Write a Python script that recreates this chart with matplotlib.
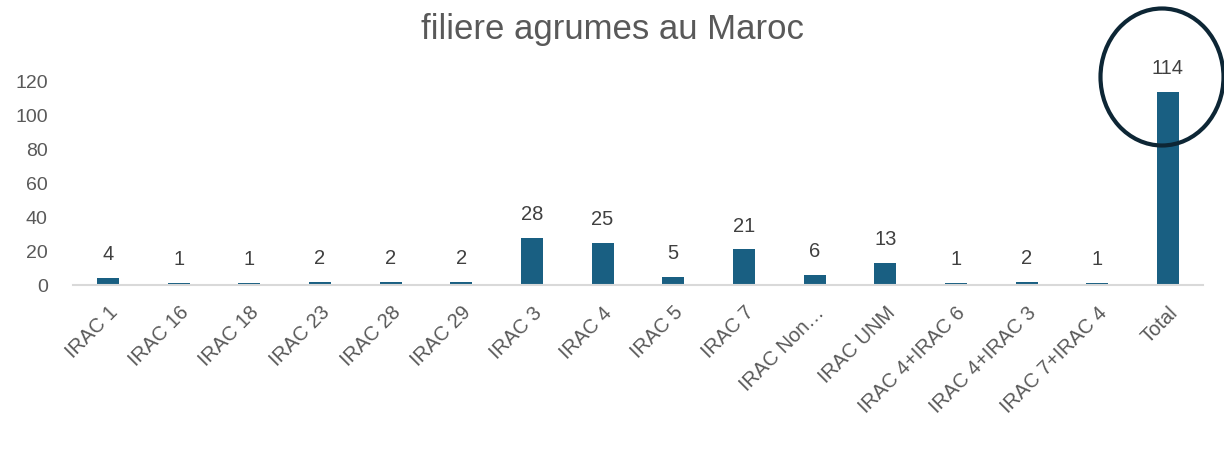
from matplotlib import pyplot as plt
from matplotlib.patches import Ellipse

categories = ['IRAC 1', 'IRAC 16', 'IRAC 18', 'IRAC 23', 'IRAC 28', 'IRAC 29',
	'IRAC 3', 'IRAC 4', 'IRAC 5', 'IRAC 7', 'IRAC Non…', 'IRAC UNM',
	'IRAC 4+IRAC 6', 'IRAC 4+IRAC 3', 'IRAC 7+IRAC 4', 'Total']
counts = [4, 1, 1, 2, 2, 2, 28, 25, 5, 21, 6, 13, 1, 2, 1, 114]
y_ticks = [0, 20, 40, 60, 80, 100, 120]

bar_color = '#195f82'
text_color = '#404040'

plt.rcParams['font.family'] = ['Liberation Sans', 'DejaVu Sans']

fig = plt.figure(figsize=(12.24, 4.58), dpi=100)
ax = fig.add_axes([0.0594, 0.3777, 0.9236, 0.4433])

x = list(range(len(categories)))
bars = ax.bar(x, counts, width=0.31, color=bar_color)
ax.set_xlim(-0.5, len(categories) - 0.5)
ax.set_ylim(0, 120)

for xi, v in zip(x, counts):
	ax.annotate(str(v), (xi, v), xytext=(0, 10), textcoords='offset points',
		ha='center', va='bottom', fontsize=14.5, color=text_color, annotation_clip=False)

ax.set_yticks(y_ticks)
ax.set_yticklabels([str(t) for t in y_ticks], fontsize=14, color='#595959')
ax.set_xticks(x)
ax.set_xticklabels(categories, rotation=45, ha='right', va='top',
	rotation_mode='anchor', fontsize=14.5, color='#595959')
ax.tick_params(axis='both', length=0)
ax.tick_params(axis='x', pad=13)
ax.tick_params(axis='y', pad=18)

for s in ['top', 'right', 'left']:
	ax.spines[s].set_visible(False)
ax.spines['bottom'].set_color('#d9d9d9')
ax.spines['bottom'].set_linewidth(1.5)

fig.text(0.5, 1 - 29 / 458, 'filiere agrumes au Maroc', ha='center', va='center',
	fontsize=25, color='#595959')

circle = Ellipse((1162 / 1224, 1 - 77 / 458), 123 / 1224, 137 / 458,
	transform=fig.transFigure, fill=False, edgecolor='#0d2635', linewidth=3)
fig.add_artist(circle)

plt.savefig('out.png', dpi=100)
